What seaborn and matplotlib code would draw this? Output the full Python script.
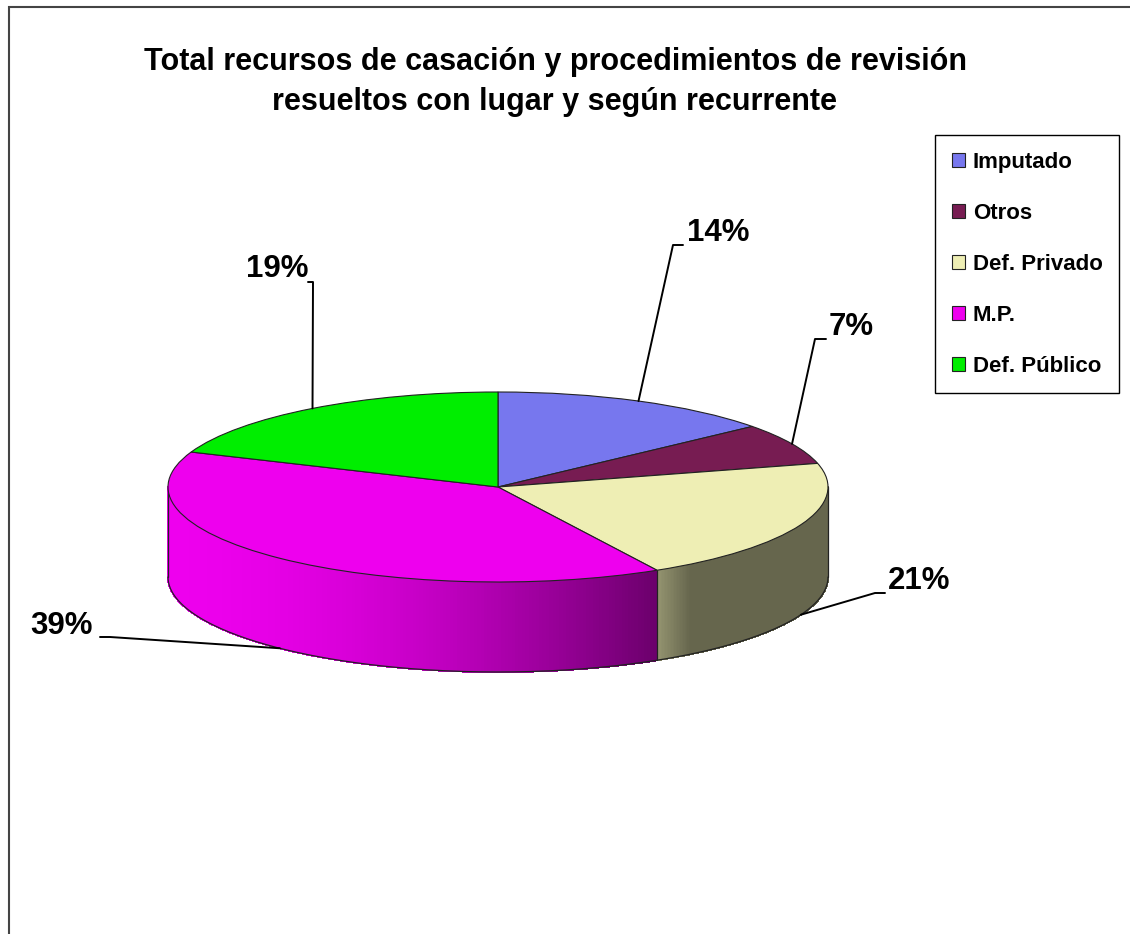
import numpy as np
import matplotlib
matplotlib.use("Agg")
import matplotlib.pyplot as plt
import seaborn as sns
from matplotlib.collections import PolyCollection
from matplotlib.colors import to_rgb
from matplotlib.patches import Rectangle

# --------------------------------------------------------------
# Data
# --------------------------------------------------------------
categories = ["Imputado", "Otros", "Def. Privado", "M.P.", "Def. Público"]
shares = [14, 7, 21, 39, 19]
colors = ["#7777EE", "#771C52", "#EEEEB4", "#EE00EE", "#00EE00"]
title_lines = [
    "Total recursos de casación y procedimientos de revisión",
    "resueltos con lugar y según recurrente",
]

# --------------------------------------------------------------
# Layout (pixels of the 1130x934 picture)
# --------------------------------------------------------------
W, H = 1130, 934
CX, CY = 498, 487      # centre of the top face
RX, RY = 330, 95       # half axes of the top ellipse
DEPTH = 90 / RY        # thickness of the pie in data units

# text centre and elbow (near text -> bend) for each percentage label
label_pos = [(718, 233), (851, 327), (919, 581), (62, 626), (277, 269)]
label_elbow = [
    [(683, 245), (673, 245)],
    [(826, 339), (815, 339)],
    [(885, 593), (875, 593)],
    [(100, 637), (110, 637)],
    [(308, 282), (313, 282)],
]


def to_data(px, py):
    return (px - CX) / RX, (CY - py) / RY


sns.set_theme(style="white")
plt.rcParams["font.family"] = ["Liberation Sans", "DejaVu Sans"]
plt.rcParams["text.color"] = "black"

fig = plt.figure(figsize=(W / 100, H / 100), dpi=100)
ax = fig.add_axes([0, 0, 1, 1])

# top face
wedges, _ = ax.pie(
    shares,
    colors=colors,
    startangle=90,
    counterclock=False,
    radius=1,
    wedgeprops=dict(edgecolor="#222222", linewidth=0.8),
)
for w in wedges:
    w.set_zorder(3)

# side of the pie (front half only), shaded from left to right on screen
total = sum(shares)
cum = np.cumsum([0] + shares)
starts = 90 - 360 * cum[:-1] / total
ends = 90 - 360 * cum[1:] / total

polys, fcs = [], []
bounds = []
for cat, col, a0, a1 in zip(categories, colors, starts, ends):
    hi, lo = min(a0, 0), max(a1, -180)
    if lo >= hi:
        continue
    if -180 < a0 < 0:
        bounds.append(a0)
    phis = np.linspace(lo, hi, 200)
    base = np.array(to_rgb(col))
    x_lo, x_hi = np.cos(np.radians(lo)), np.cos(np.radians(hi))
    for k in range(len(phis) - 1):
        p0, p1 = np.radians(phis[k]), np.radians(phis[k + 1])
        polys.append([
            (np.cos(p0), np.sin(p0)), (np.cos(p1), np.sin(p1)),
            (np.cos(p1), np.sin(p1) - DEPTH), (np.cos(p0), np.sin(p0) - DEPTH),
        ])
        t = (np.cos((p0 + p1) / 2) - x_lo) / (x_hi - x_lo)
        if cat == "M.P.":
            s = 1.0 - 0.55 * t ** 1.8
        else:
            s = 0.43 + 0.2 * max(0.0, 1 - t / 0.2)
        fcs.append(np.clip(base * s, 0, 1))

ax.add_collection(PolyCollection(polys, facecolors=fcs, edgecolors=fcs,
                                 linewidths=0.8, antialiaseds=False, zorder=1))

# outline of the side
phi = np.radians(np.linspace(-180, 0, 300))
ax.plot(np.cos(phi), np.sin(phi) - DEPTH, color="#222222", lw=0.9, zorder=2)
for a in [-180, 0] + bounds:
    r = np.radians(a)
    ax.plot([np.cos(r)] * 2, [np.sin(r), np.sin(r) - DEPTH],
            color="#222222", lw=0.9, zorder=2)

# percentage labels with leader lines
for val, a0, a1, tp, elb in zip(shares, starts, ends, label_pos, label_elbow):
    m = np.radians((a0 + a1) / 2)
    anchor = (np.cos(m), np.sin(m) - DEPTH if np.sin(m) < 0 else np.sin(m))
    pts = [to_data(*p) for p in elb] + [anchor]
    xs, ys = zip(*pts)
    ax.plot(xs, ys, color="black", lw=1.4, zorder=4)
    tx, ty = to_data(*tp)
    ax.text(tx, ty, f"{val}%", ha="center", va="center",
            fontsize=22.5, fontweight="bold", zorder=5)

ax.set_aspect("auto")
ax.set_xlim(-CX / RX, (W - CX) / RX)
ax.set_ylim((CY - H) / RY, CY / RY)
ax.axis("off")

# title
fig.text(555 / W, 1 - 70 / H, title_lines[0], ha="center", va="baseline",
         fontsize=22, fontweight="bold")
fig.text(555 / W, 1 - 110 / H, title_lines[1], ha="center", va="baseline",
         fontsize=22, fontweight="bold")

# legend
leg = ax.legend(
    wedges, categories,
    loc="upper left",
    bbox_to_anchor=(935 / W, 1 - 135 / H),
    bbox_transform=fig.transFigure,
    prop={"weight": "bold", "size": 16},
    frameon=True, fancybox=False, framealpha=1,
    handlelength=0.6, handleheight=0.6, handletextpad=0.35,
    labelspacing=1.35, borderpad=0.75, borderaxespad=0,
)
leg.get_frame().set_edgecolor("black")
leg.get_frame().set_linewidth(1.0)

# chart area border (only top and left are inside the picture)
fig.add_artist(Rectangle((9 / W, -0.1), 1.2, 1.1 - 7 / H, transform=fig.transFigure,
                         fill=False, edgecolor="#444444", lw=1.5))

plt.savefig("out.png", dpi=100)
